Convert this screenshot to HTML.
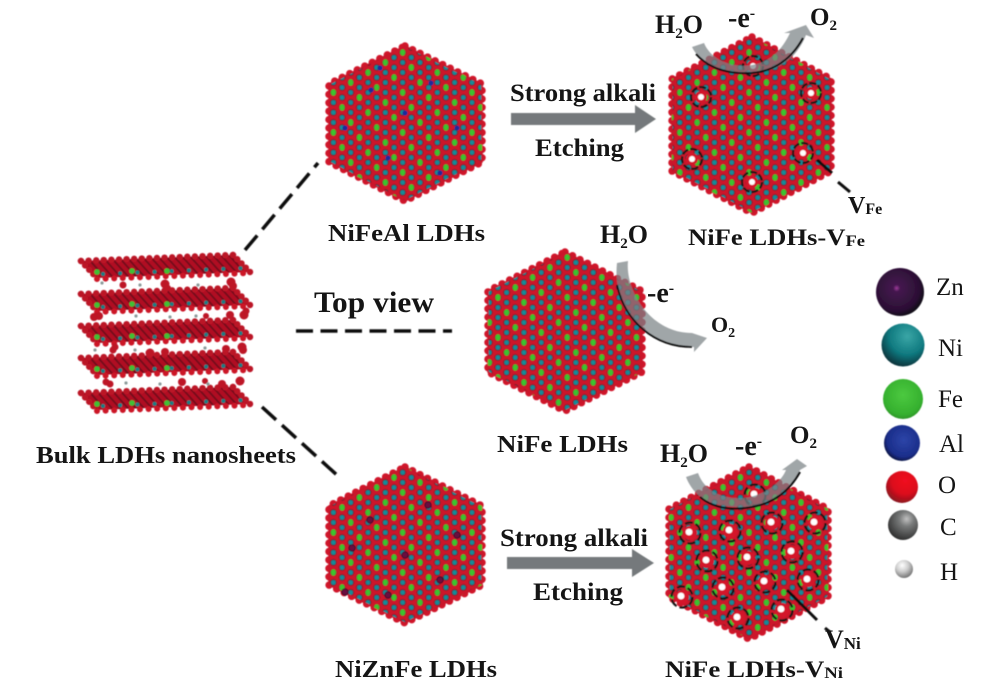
<!DOCTYPE html>
<html><head><meta charset="utf-8"><style>
html,body{margin:0;padding:0;background:#fff}
svg{display:block}
text{font-family:"Liberation Serif",serif;fill:#151515}
.l{font-size:25px}
</style></head><body>
<svg width="1000" height="687" viewBox="0 0 1000 687" xmlns="http://www.w3.org/2000/svg">
<defs>
<filter id="bl" x="-5%" y="-5%" width="110%" height="110%"><feGaussianBlur stdDeviation="0.5"/></filter>
<pattern id="lat" width="17.32" height="10" patternUnits="userSpaceOnUse">
<rect width="17.32" height="10" fill="#cc1329"/>
<g fill="#3f1a28">
<circle cx="4.33" cy="2.5" r="3.2"/><circle cx="4.33" cy="12.5" r="3.2"/><circle cx="12.99" cy="7.5" r="3.2"/><circle cx="12.99" cy="-2.5" r="3.2"/>
</g>
<g fill="#128a98">
<circle cx="4.33" cy="2.5" r="2.4"/><circle cx="12.99" cy="7.5" r="2.4"/>
</g>
</pattern>
<pattern id="gr" width="69.28" height="40" patternUnits="userSpaceOnUse">
<g fill="#3ec22f">
<ellipse cx="4.33" cy="2.5" rx="2.6" ry="3.2"/><ellipse cx="4.33" cy="42.5" rx="2.6" ry="3.2"/>
<ellipse cx="12.99" cy="17.5" rx="2.6" ry="3.2"/>
<ellipse cx="21.65" cy="32.5" rx="2.6" ry="3.2"/>
<ellipse cx="30.31" cy="7.5" rx="2.6" ry="3.2"/>
<ellipse cx="38.97" cy="22.5" rx="2.6" ry="3.2"/>
<ellipse cx="47.63" cy="37.5" rx="2.6" ry="3.2"/><ellipse cx="47.63" cy="-2.5" rx="2.6" ry="3.2"/>
<ellipse cx="56.29" cy="12.5" rx="2.6" ry="3.2"/>
<ellipse cx="64.95" cy="27.5" rx="2.6" ry="3.2"/>
</g>
</pattern>
<pattern id="stripe" width="8" height="20" patternUnits="userSpaceOnUse" patternTransform="skewX(42)">
<rect width="8" height="20" fill="#72101c"/>
<rect x="0.5" width="5.5" height="20" fill="#b01024"/>
</pattern>
<g id="sheet">
<polygon points="80,261 233,255 250,272 97,278" fill="url(#stripe)"/>
<polyline points="81,261 233,255" fill="none" stroke="#bb1226" stroke-width="6.5" stroke-linecap="round" stroke-dasharray="0 7.6"/>
<polyline points="81,261 97,278" fill="none" stroke="#bb1226" stroke-width="6.5" stroke-linecap="round" stroke-dasharray="0 6"/>
<polyline points="233,255 250,272" fill="none" stroke="#bb1226" stroke-width="6.5" stroke-linecap="round" stroke-dasharray="0 6"/>
<polyline points="97,279 250,273" fill="none" stroke="#cc1228" stroke-width="6" stroke-linecap="round" stroke-dasharray="0 8.6"/>
<polyline points="103,274 246,268" fill="none" stroke="#127f86" stroke-width="4" stroke-linecap="round" stroke-dasharray="0 17.2"/>
<circle cx="97" cy="272" r="2.8" fill="#3fc034"/><circle cx="132" cy="271" r="2.8" fill="#3fc034"/><circle cx="167" cy="271" r="2.8" fill="#3fc034"/>
</g>
<radialGradient id="gZn" cx="43%" cy="42%" r="60%"><stop offset="0" stop-color="#a03a9c"/><stop offset=".12" stop-color="#45194f"/><stop offset=".8" stop-color="#2a0f33"/><stop offset="1" stop-color="#0e0714"/></radialGradient>
<radialGradient id="gNi" cx="60%" cy="30%" r="70%"><stop offset="0" stop-color="#3aa6a6"/><stop offset=".6" stop-color="#107a80"/><stop offset="1" stop-color="#07373f"/></radialGradient>
<radialGradient id="gFe" cx="50%" cy="40%" r="65%"><stop offset="0" stop-color="#4cc940"/><stop offset=".75" stop-color="#35b02e"/><stop offset="1" stop-color="#2a8a28"/></radialGradient>
<radialGradient id="gAl" cx="55%" cy="42%" r="62%"><stop offset="0" stop-color="#2d45a8"/><stop offset=".75" stop-color="#1a2d8a"/><stop offset="1" stop-color="#080f33"/></radialGradient>
<radialGradient id="gO" cx="60%" cy="30%" r="70%"><stop offset="0" stop-color="#f01020"/><stop offset=".6" stop-color="#dc0c1e"/><stop offset="1" stop-color="#8e1520"/></radialGradient>
<radialGradient id="gC" cx="62%" cy="30%" r="70%"><stop offset="0" stop-color="#c0c0c0"/><stop offset=".35" stop-color="#787a7a"/><stop offset="1" stop-color="#333"/></radialGradient>
<radialGradient id="gH" cx="40%" cy="30%" r="70%"><stop offset="0" stop-color="#fff"/><stop offset=".5" stop-color="#ccc"/><stop offset="1" stop-color="#777"/></radialGradient>
<g id="vac"><circle r="6" fill="#d4142c"/><circle r="3" fill="#fff"/><circle r="10" fill="none" stroke="#141414" stroke-width="2.2" stroke-dasharray="7 2"/></g>
<g id="vac2"><circle r="7" fill="#d4142c"/><circle cx="-1" cy="-1" r="3.4" fill="#fff"/><circle r="10.5" fill="none" stroke="#141414" stroke-width="2.2" stroke-dasharray="8 3"/></g>
</defs>

<g filter="url(#bl)">
<!-- hexagons -->
<g fill="none" stroke="#d0142c" stroke-width="7.5" stroke-linecap="round" stroke-dasharray="0 8.4">
<polygon points="405,46 482,84 482,162 405,201 329,162 329,84"/>
<polygon points="752,37 831,79 831,171 752,213 672,171 672,79"/>
<polygon points="565,252 642,291 642,372 565,411 488,372 488,291"/>
<polygon points="405,467 482,506 482,585 405,623 329,585 329,506"/>
<polygon points="749,467 828,509 828,597 749,639 669,597 669,509"/>
</g>
<g fill="url(#lat)" stroke="#c8142a" stroke-width="1.5">
<polygon points="405,46 482,84 482,162 405,201 329,162 329,84"/>
<polygon points="752,37 831,79 831,171 752,213 672,171 672,79"/>
<polygon points="565,252 642,291 642,372 565,411 488,372 488,291"/>
<polygon points="405,467 482,506 482,585 405,623 329,585 329,506"/>
<polygon points="749,467 828,509 828,597 749,639 669,597 669,509"/>
</g>
<g fill="url(#gr)">
<polygon points="405,46 482,84 482,162 405,201 329,162 329,84"/>
<polygon points="752,37 831,79 831,171 752,213 672,171 672,79"/>
<polygon points="565,252 642,291 642,372 565,411 488,372 488,291"/>
<polygon points="405,467 482,506 482,585 405,623 329,585 329,506"/>
<polygon points="749,467 828,509 828,597 749,639 669,597 669,509"/>
</g>
<!-- Al sites -->
<g fill="#1d2c9a">
<circle cx="371" cy="90" r="2.6"/><circle cx="431" cy="83" r="2.6"/><circle cx="345" cy="128" r="2.6"/><circle cx="405" cy="113" r="2.6"/><circle cx="457" cy="128" r="2.6"/><circle cx="388" cy="158" r="2.6"/><circle cx="440" cy="173" r="2.6"/><circle cx="380" cy="68" r="2.6"/>
</g>
<!-- Zn sites -->
<g fill="#6b1040" stroke="#3a0b2b" stroke-width="1">
<circle cx="370" cy="520" r="3.2"/><circle cx="428" cy="505" r="3.2"/><circle cx="345" cy="592" r="3.2"/><circle cx="405" cy="555" r="3.2"/><circle cx="457" cy="535" r="3.2"/><circle cx="388" cy="595" r="3.2"/><circle cx="440" cy="580" r="3.2"/><circle cx="352" cy="548" r="3.2"/>
</g>
<!-- vacancies -->
<use href="#vac" x="753" y="66"/><use href="#vac" x="701" y="97"/><use href="#vac" x="811" y="93"/><use href="#vac" x="692" y="159"/><use href="#vac" x="803" y="153"/><use href="#vac" x="752" y="182"/>
<use href="#vac2" x="755" y="495"/><use href="#vac2" x="690" y="533"/><use href="#vac2" x="730" y="531"/><use href="#vac2" x="772" y="523"/><use href="#vac2" x="815" y="523"/><use href="#vac2" x="707" y="561"/><use href="#vac2" x="748" y="558"/><use href="#vac2" x="792" y="552"/><use href="#vac2" x="765" y="582"/><use href="#vac2" x="808" y="580"/><use href="#vac2" x="723" y="588"/><use href="#vac2" x="682" y="597"/><use href="#vac2" x="738" y="618"/><use href="#vac2" x="782" y="610"/>

<!-- layered stack -->
<use href="#sheet"/><use href="#sheet" y="33"/><use href="#sheet" y="65"/><use href="#sheet" y="97"/><use href="#sheet" y="132"/>
<g fill="#bd1228">
<circle cx="123" cy="285" r="3.5"/><circle cx="165" cy="284" r="4.5"/><circle cx="168" cy="288" r="3"/><circle cx="231" cy="282" r="4.5"/><circle cx="233" cy="286" r="4"/>
<circle cx="94" cy="317" r="4"/><circle cx="99" cy="316" r="4"/><circle cx="230" cy="315" r="4"/><circle cx="244" cy="315" r="4.5"/><circle cx="246" cy="311" r="3.5"/><circle cx="206" cy="316" r="3"/>
<circle cx="113" cy="350" r="3.5"/><circle cx="115" cy="347" r="3.5"/><circle cx="150" cy="353" r="4.5"/><circle cx="165" cy="352" r="4"/><circle cx="226" cy="349" r="4"/><circle cx="242" cy="347" r="4.5"/><circle cx="243" cy="350" r="4"/>
<circle cx="106" cy="382" r="3.5"/><circle cx="110" cy="384" r="3.5"/><circle cx="182" cy="382" r="4"/><circle cx="222" cy="384" r="4"/><circle cx="240" cy="381" r="4.5"/><circle cx="205" cy="381" r="3"/>
</g>
<g fill="#8b9a9a">
<circle cx="102" cy="283" r="1.6"/><circle cx="140" cy="285" r="1.6"/><circle cx="198" cy="285" r="1.6"/><circle cx="136" cy="316" r="1.6"/><circle cx="170" cy="317" r="1.6"/><circle cx="196" cy="316" r="1.6"/><circle cx="95" cy="350" r="1.6"/><circle cx="135" cy="350" r="1.6"/><circle cx="205" cy="348" r="1.6"/><circle cx="126" cy="383" r="1.6"/><circle cx="160" cy="384" r="1.6"/><circle cx="208" cy="384" r="1.6"/>
</g>

<!-- dashed connectors -->
<g stroke="#111" stroke-width="3.5" fill="none" stroke-dasharray="19 8">
<line x1="245" y1="250" x2="318" y2="163"/>
<line x1="296" y1="331" x2="452" y2="331" stroke-dasharray="17 7.5"/>
<line x1="262" y1="407" x2="338" y2="476"/>
</g>
<g stroke="#111" stroke-width="3" fill="none">
<line x1="817" y1="160" x2="832" y2="173"/><line x1="838" y1="182" x2="850" y2="192"/>
<line x1="787" y1="590" x2="817" y2="620"/><line x1="825" y1="628" x2="830" y2="632"/>
</g>

<!-- straight arrows -->
<polygon points="511,113 635,113 635,105 656,119 635,133 635,125 511,125" fill="#75797b"/>
<polygon points="507,557 632,557 632,549 654,563 632,577 632,569 507,569" fill="#75797b"/>

<!-- curved arrows -->
<path d="M692,47 L704,43 C712,62 735,68 752,65 C770,62 782,50 790,33 L784,33 L806,25 L814,38 L806,35 C797,58 778,73 750,73 C722,73 700,64 692,47 Z" fill="#7c8486" fill-opacity=".72"/>
<path d="M696,54 C712,72 735,74 752,73 C775,71 792,58 803,38" fill="none" stroke="#111" stroke-width="2"/>
<path d="M617,263 L628,261 C625,290 650,333 692,333 L707,338 L694,352 L694,347 C645,347 612,310 617,263 Z" fill="#7c8486" fill-opacity=".72"/>
<path d="M617,285 C625,322 655,347 692,347" fill="none" stroke="#111" stroke-width="1.8"/>
<path d="M686,477 L698,473 C706,495 730,501 750,497 C770,492 782,480 786,470 L782,470 L797,459 L807,466 L800,470 C792,490 775,505 745,507 C715,508 695,500 686,477 Z" fill="#7c8486" fill-opacity=".72"/>
<path d="M700,497 C715,510 735,510 752,507 C775,503 790,490 800,472" fill="none" stroke="#111" stroke-width="2"/>

<!-- legend spheres -->
<circle cx="900" cy="292" r="24" fill="url(#gZn)"/>
<circle cx="903" cy="345" r="21.5" fill="url(#gNi)"/>
<circle cx="903" cy="399" r="20" fill="url(#gFe)"/>
<circle cx="902" cy="443" r="18" fill="url(#gAl)"/>
<circle cx="902" cy="487" r="16" fill="url(#gO)"/>
<circle cx="903" cy="525" r="15" fill="url(#gC)"/>
<circle cx="904" cy="569" r="9" fill="url(#gH)"/>
</g>

<!-- labels -->
<g font-weight="bold">
<text x="510" y="101" font-size="25" textLength="146" lengthAdjust="spacingAndGlyphs">Strong alkali</text>
<text x="535" y="156" font-size="25" textLength="89" lengthAdjust="spacingAndGlyphs">Etching</text>
<text x="500" y="546" font-size="25" textLength="148" lengthAdjust="spacingAndGlyphs">Strong alkali</text>
<text x="533" y="600" font-size="25" textLength="90" lengthAdjust="spacingAndGlyphs">Etching</text>
<text x="328" y="241" font-size="24" textLength="157" lengthAdjust="spacingAndGlyphs">NiFeAl LDHs</text>
<text x="688" y="245" font-size="23" textLength="177" lengthAdjust="spacingAndGlyphs">NiFe LDHs-V<tspan font-size="16" dy="1">Fe</tspan></text>
<text x="36" y="463" font-size="24.5" textLength="260" lengthAdjust="spacingAndGlyphs">Bulk LDHs nanosheets</text>
<text x="314" y="312" font-size="30" textLength="120" lengthAdjust="spacingAndGlyphs">Top view</text>
<text x="497" y="452" font-size="24" textLength="131" lengthAdjust="spacingAndGlyphs">NiFe LDHs</text>
<text x="335" y="677" font-size="24" textLength="162" lengthAdjust="spacingAndGlyphs">NiZnFe LDHs</text>
<text x="665" y="677" font-size="23" textLength="178" lengthAdjust="spacingAndGlyphs">NiFe LDHs-V<tspan font-size="16" dy="1">Ni</tspan></text>
<text x="848" y="213" font-size="24">V<tspan font-size="16" dy="1">Fe</tspan></text>
<text x="825" y="648" font-size="26">V<tspan font-size="17" dy="1">Ni</tspan></text>

<text x="655" y="33" font-size="26">H<tspan font-size="15" dy="5">2</tspan><tspan dy="-5">O</tspan></text>
<text x="728" y="27" font-size="28">-e<tspan font-size="16" dy="-9">-</tspan></text>
<text x="810" y="25" font-size="25">O<tspan font-size="15" dy="5">2</tspan></text>
<text x="600" y="243" font-size="26">H<tspan font-size="15" dy="5">2</tspan><tspan dy="-5">O</tspan></text>
<text x="647" y="302" font-size="28">-e<tspan font-size="16" dy="-9">-</tspan></text>
<text x="711" y="332" font-size="22">O<tspan font-size="14" dy="5">2</tspan></text>
<text x="660" y="462" font-size="26">H<tspan font-size="15" dy="5">2</tspan><tspan dy="-5">O</tspan></text>
<text x="735" y="455" font-size="28">-e<tspan font-size="16" dy="-9">-</tspan></text>
<text x="790" y="443" font-size="25">O<tspan font-size="15" dy="5">2</tspan></text>
</g>
<text class="l" x="936" y="295">Zn</text>
<text class="l" x="938" y="356">Ni</text>
<text class="l" x="938" y="407">Fe</text>
<text class="l" x="939" y="452">Al</text>
<text class="l" x="938" y="493">O</text>
<text class="l" x="940" y="535">C</text>
<text class="l" x="940" y="580">H</text>
</svg>
</body></html>
